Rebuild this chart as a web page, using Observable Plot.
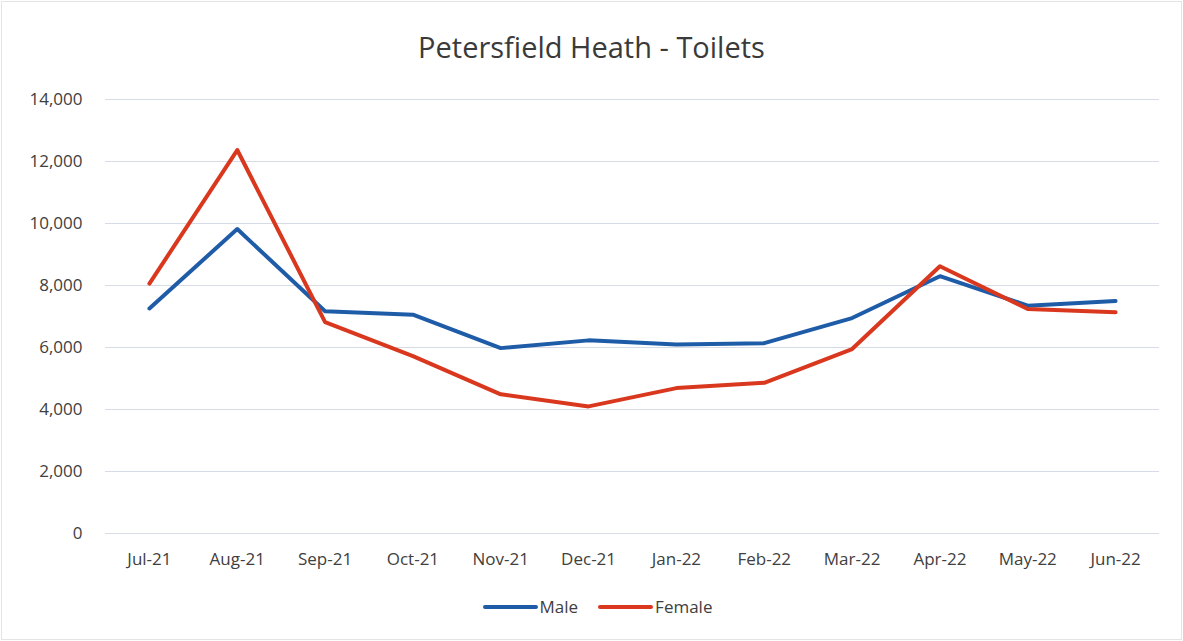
<!DOCTYPE html>
<html>
<head>
<meta charset="utf-8">
<script src="https://cdn.jsdelivr.net/npm/d3@7"></script>
<script src="https://cdn.jsdelivr.net/npm/@observablehq/plot@0.6"></script>
<style>
  html, body { margin: 0; padding: 0; background: #fff; }
  body { width: 1183px; height: 641px; overflow: hidden; font-family: "Open Sans", "Noto Sans", sans-serif; color: #404040; }
  #frame { position: relative; width: 1179px; height: 637px; border: 1px solid #e4e4e4; margin: 1px; }
  #title { height: 79px; line-height: 90px; text-align: center; font-size: 29px; color: #3a3a3a; }
  #legend { display: flex; justify-content: center; align-items: center; gap: 20px; font-size: 17px; margin-top: 17px; padding-left: 12px; }
  .sw { display: inline-block; width: 55px; height: 4px; border-radius: 2px; vertical-align: middle; }
  .item { display: flex; align-items: center; gap: 2px; }
</style>
</head>
<body>
<div id="frame">
  <div id="title">Petersfield Heath - Toilets</div>
  <div id="chart"></div>
  <div id="legend"></div>
</div>
<script>
const months = ["Jul-21","Aug-21","Sep-21","Oct-21","Nov-21","Dec-21","Jan-22","Feb-22","Mar-22","Apr-22","May-22","Jun-22"];
const male   = [7260, 9820, 7170, 7060, 5980, 6230, 6100, 6140, 6950, 8300, 7350, 7500];
const female = [8060, 12370, 6820, 5720, 4490, 4100, 4690, 4860, 5950, 8620, 7240, 7140];
const seriesNames = ["Male", "Female"];
const seriesColors = ["#1f5ca8", "#d9381e"];
const yTicks = [0, 2000, 4000, 6000, 8000, 10000, 12000, 14000];

const data = [];
months.forEach((m, i) => {
  data.push({month: m, value: male[i], series: "Male"});
  data.push({month: m, value: female[i], series: "Female"});
});

const chart = Plot.plot({
  width: 1179,
  height: 497,
  marginTop: 18,
  marginBottom: 45,
  marginLeft: 103,
  marginRight: 22,
  style: {fontFamily: "'Open Sans', 'Noto Sans', sans-serif", fontSize: "17px", color: "#404040", background: "#fff"},
  x: {type: "point", domain: months, padding: 0.5, round: false, label: null},
  y: {domain: [0, 14000], label: null},
  color: {domain: seriesNames, range: seriesColors},
  marks: [
    Plot.gridY(yTicks, {stroke: "#d6dbe6", strokeOpacity: 1, strokeWidth: 1}),
    Plot.axisY(yTicks, {tickSize: 0, tickPadding: 23, tickFormat: d3.format(","), label: null, fontSize: 17}),
    Plot.axisX({tickSize: 0, tickPadding: 19, label: null, fontSize: 17}),
    Plot.line(data, {x: "month", y: "value", z: "series", stroke: "series", strokeWidth: 4, strokeLinejoin: "round", strokeLinecap: "round"})
  ]
});
document.getElementById("chart").appendChild(chart);

const legend = document.getElementById("legend");
seriesNames.forEach((s, i) => {
  const it = document.createElement("span");
  it.className = "item";
  it.innerHTML = `<span class="sw" style="background:${seriesColors[i]}"></span><span>${s}</span>`;
  legend.appendChild(it);
});
</script>
</body>
</html>
